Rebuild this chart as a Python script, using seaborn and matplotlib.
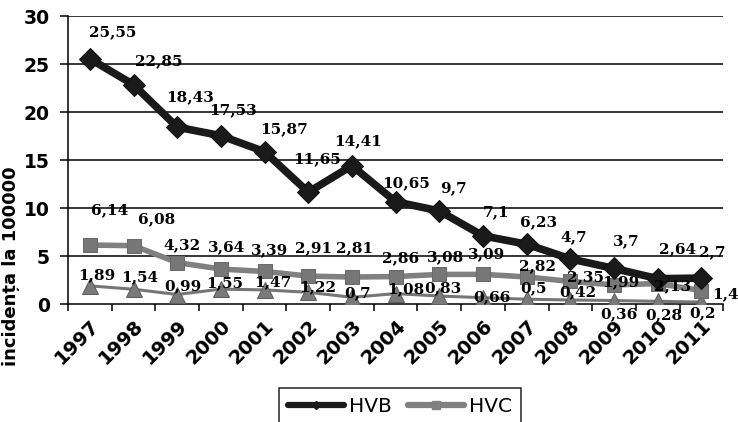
import matplotlib
matplotlib.use("Agg")
import matplotlib.pyplot as plt
import seaborn as sns
import pandas as pd
from matplotlib.lines import Line2D

years = ["1997", "1998", "1999", "2000", "2001", "2002", "2003", "2004",
         "2005", "2006", "2007", "2008", "2009", "2010", "2011"]
hvb = [25.55, 22.85, 18.43, 17.53, 15.87, 11.65, 14.41, 10.65, 9.7, 7.1,
       6.23, 4.7, 3.7, 2.64, 2.7]
hvc = [6.14, 6.08, 4.32, 3.64, 3.39, 2.91, 2.81, 2.86, 3.08, 3.09,
       2.82, 2.35, 1.99, 2.13, 1.4]
hvd = [1.89, 1.54, 0.99, 1.55, 1.47, 1.22, 0.7, 1.08, 0.83, 0.66,
       0.5, 0.42, 0.36, 0.28, 0.2]
y_ticks = [0, 5, 10, 15, 20, 25, 30]

# label placement (pixel offsets from each point, x right / y down)
hvb_lab_off = [(23, -27), (25, -23), (13, -30), (12, -26), (19, -22),
               (9, -33), (6, -24), (10, -19), (14, -23), (13, -24),
               (12, -22), (3, -22), (12, -27), (20, -29), (11, -26)]
hvc_lab_off = [(20, -35), (23, -26), (5, -17), (6, -22), (5, -21),
               (5, -28), (3, -29), (5, -18), (6, -17), (4, -20),
               (11, -11), (15, -4), (7, -3), (15, 3), (24, 4)]
hvd_lab_off = [(7, -11), (6, -12), (6, -8), (4, -6), (8, -8),
               (9, -5), (6, -4), (10, -4), (4, -8), (9, 0),
               (7, -11), (7, -8), (5, 14), (6, 14), (1, 11)]

sns.set_theme(style="white")
plt.rcParams['font.family'] = ['DejaVu Sans']
plt.rcParams['text.color'] = 'black'
plt.rcParams['axes.labelcolor'] = 'black'
plt.rcParams['xtick.color'] = 'black'
plt.rcParams['ytick.color'] = 'black'

fig = plt.figure(figsize=(7.38, 4.22), dpi=100)
ax = fig.add_axes([0.0921, 0.2796, 0.888, 0.6824])

df = pd.DataFrame({"year": years, "HVB": hvb, "HVC": hvc, "HVD": hvd})
xpos = list(range(len(years)))

for y in y_ticks[1:]:
    ax.axhline(y, color="black", lw=1.1, zorder=1)

sns.lineplot(x=xpos, y=df["HVD"], ax=ax, color="#767676", lw=2.2,
             marker="^", markersize=11, markeredgecolor="#5e5e5e",
             markerfacecolor="#7a7a7a", zorder=3, legend=False)
sns.lineplot(x=xpos, y=df["HVC"], ax=ax, color="#808080", lw=4.0,
             marker="s", markersize=9.5, markeredgecolor="#6a6a6a",
             markerfacecolor="#777777", zorder=4, legend=False)
sns.lineplot(x=xpos, y=df["HVB"], ax=ax, color="#1a1a1a", lw=5.5,
             marker="D", markersize=11.5, markeredgecolor="#111111",
             markerfacecolor="#1a1a1a", zorder=5, legend=False)

def fmt(v):
    return ("%g" % v).replace(".", ",")

PX = 0.72  # points per pixel at 100 dpi
lab_font = dict(family="DejaVu Serif", weight="bold", size=11, color="black")
for vals, offs in ((hvb, hvb_lab_off), (hvc, hvc_lab_off), (hvd, hvd_lab_off)):
    for i, (v, (dx, dy)) in enumerate(zip(vals, offs)):
        ax.annotate(fmt(v), (i, v), xytext=(dx * PX, -dy * PX),
                    textcoords="offset points", ha="center", va="center",
                    zorder=6, annotation_clip=False, **lab_font)

ax.set_xlim(-0.5, len(years) - 0.5)
ax.set_ylim(0, 30)
ax.set_yticks(y_ticks)
ax.set_yticklabels([str(t) for t in y_ticks], fontsize=13.5, fontweight="bold")
ax.set_xticks(xpos)
ax.set_xticklabels(years, rotation=45, ha="right", va="top",
                   rotation_mode="anchor", fontsize=14, fontweight="bold")
ax.set_xticks([i - 0.5 for i in range(len(years) + 1)], minor=True)
ax.tick_params(axis="x", which="major", length=0, pad=9)
ax.tick_params(axis="x", which="minor", length=5, width=1.1, color="black",
               direction="out")
ax.tick_params(axis="y", length=6, width=1.1, color="black", direction="out",
               pad=7)
ax.yaxis.set_ticks_position("left")
ax.xaxis.set_ticks_position("bottom")

for s in ["top", "right"]:
    ax.spines[s].set_visible(False)
for s in ["left", "bottom"]:
    ax.spines[s].set_color("black")
    ax.spines[s].set_linewidth(1.1)

ax.set_xlabel("")
ax.set_ylabel("incidența la 100000", fontsize=13, fontweight="bold")
ax.yaxis.set_label_coords(-0.073, 0.13)

handles = [Line2D([], [], color="#1a1a1a", lw=4.5, marker="D", markersize=4),
           Line2D([], [], color="#808080", lw=4.5, marker="s", markersize=6)]
leg = fig.legend(handles, ["HVB", "HVC"], loc="upper center",
                 bbox_to_anchor=(0.542, 0.0806), ncol=2, frameon=True,
                 fancybox=False, edgecolor="black", fontsize=14.5,
                 handlelength=2.8, handletextpad=0.25, columnspacing=0.8,
                 borderpad=0.45, borderaxespad=0)
leg.get_frame().set_linewidth(1.2)

fig.savefig("out.png", dpi=100)
